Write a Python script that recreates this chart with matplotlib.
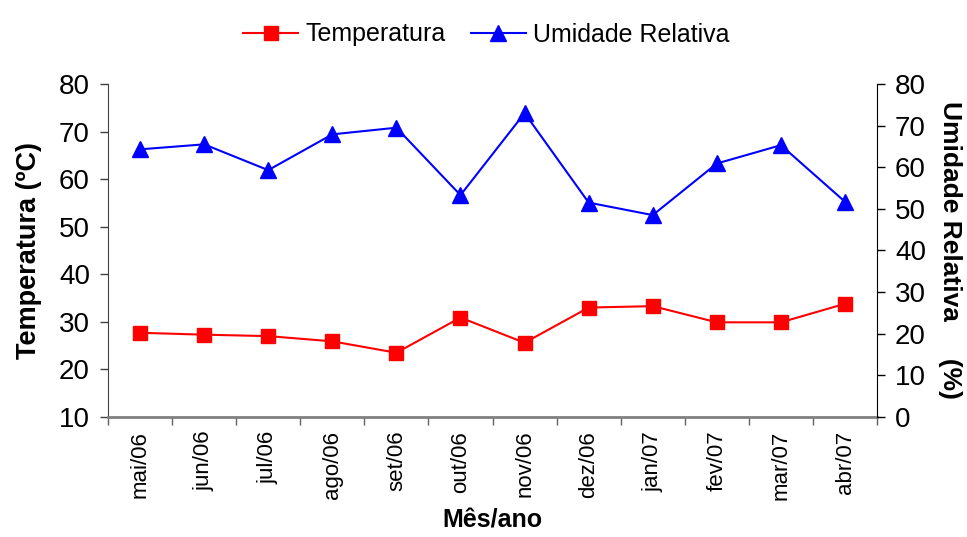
import matplotlib
matplotlib.use("Agg")
import matplotlib.pyplot as plt
import numpy as np

plt.rcParams['font.family'] = ['Liberation Sans', 'DejaVu Sans']

months = ["mai/06", "jun/06", "jul/06", "ago/06", "set/06", "out/06",
          "nov/06", "dez/06", "jan/07", "fev/07", "mar/07", "abr/07"]
temperatura = [27.7, 27.3, 27.0, 25.9, 23.5, 30.9, 25.6, 33.0, 33.3, 29.9, 29.9, 33.8]
umidade = [64.3, 65.5, 59.3, 67.9, 69.5, 53.3, 73.0, 51.5, 48.5, 60.9, 65.3, 51.7]

fig = plt.figure(figsize=(9.67, 5.37), dpi=100)
ax = fig.add_axes([0.1117, 0.2235, 0.7953, 0.6201])
ax2 = ax.twinx()

x = np.arange(len(months))
l1, = ax.plot(x, temperatura, color='#ff0000', marker='s', markersize=10, lw=1.5,
              label='Temperatura')
l2, = ax2.plot(x, umidade, color='#0000ff', marker='^', markersize=12, lw=1.5,
               label='Umidade Relativa')

ax.set_xlim(-0.5, len(months) - 0.5)
ax.set_ylim(10, 80)
ax.set_yticks(np.arange(10, 81, 10))
ax2.set_ylim(0, 80)
ax2.set_yticks(np.arange(0, 81, 10))

ax.set_xticks(np.arange(-0.5, len(months), 1.0))
ax.set_xticklabels([])
ax.set_xticks(x, minor=True)
ax.set_xticklabels(months, minor=True, rotation=90, fontsize=16)
ax.tick_params(axis='x', which='major', length=6, width=1, color='#606060', direction='out')
ax.tick_params(axis='x', which='minor', length=0, pad=10)
ax.tick_params(axis='y', length=6, width=1, color='#404040', labelsize=20, pad=7)
ax2.tick_params(axis='y', length=6, width=1, color='black', labelsize=20, pad=7)

for a in (ax, ax2):
    a.spines['top'].set_visible(False)
ax.spines['bottom'].set_color('#808080')
ax.spines['bottom'].set_linewidth(2)
ax2.spines['bottom'].set_visible(False)
ax.spines['left'].set_color('#404040')
ax2.spines['left'].set_visible(False)
ax.spines['right'].set_visible(False)
ax2.spines['right'].set_color('black')

ax.set_ylabel('Temperatura (ºC)', fontsize=19.5, fontweight='bold', labelpad=12)
ax2.set_ylabel('Umidade Relativa     (%)', fontsize=19, fontweight='bold',
               rotation=270, labelpad=26)
ax.set_xlabel('Mês/ano', fontsize=18, fontweight='bold', labelpad=6)

fig.legend(handles=[l1, l2], loc='upper center', bbox_to_anchor=(0.503, 1.0),
           ncol=2, frameon=False, fontsize=18, handlelength=2.2,
           handletextpad=0.3, columnspacing=1.0)

fig.savefig('out.png', dpi=100)
